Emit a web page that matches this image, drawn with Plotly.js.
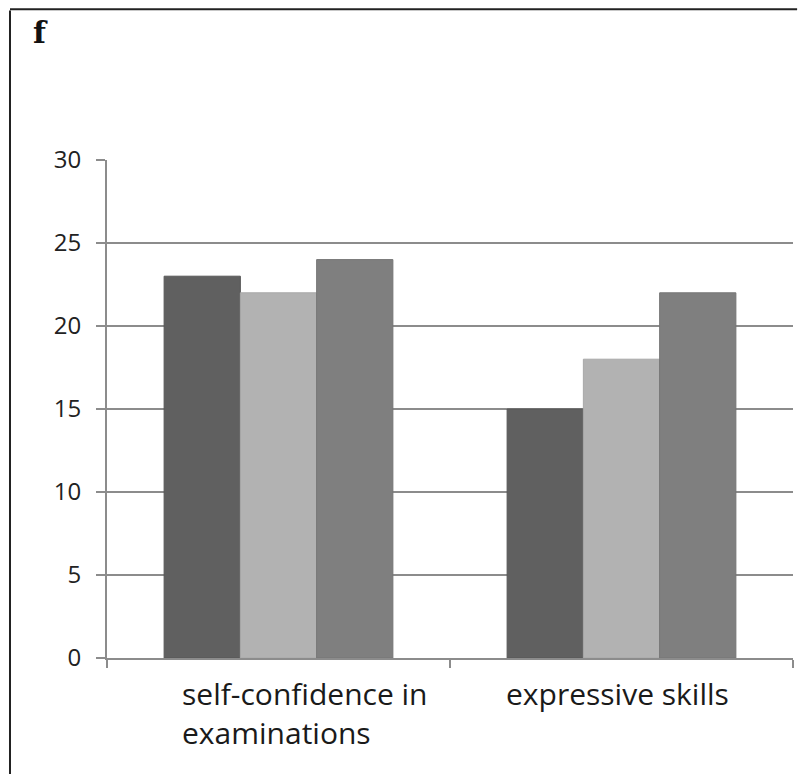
<!DOCTYPE html>
<html>
<head>
<meta charset="utf-8">
<script src="https://cdn.plot.ly/plotly-3.0.1.min.js"></script>
<style>html,body{margin:0;padding:0;background:#fff;}#chart{width:802px;height:774px;}</style>
</head>
<body>
<div id="chart"></div>
<script>
const categories = ["self-confidence in examinations", "expressive skills"];
const categoryLabels = ["self-confidence in<br>examinations", "expressive skills"];
const series1 = [23, 15];
const series2 = [22, 18];
const series3 = [24, 22];
const yTicks = [0, 5, 10, 15, 20, 25, 30];
const panelLabel = "f";

const colors = ["#606060", "#b2b2b2", "#7f7f7f"];
const lineColors = ["#575757", "#a8a8a8", "#767676"];
const seriesList = [series1, series2, series3];

const traces = seriesList.map((vals, i) => ({
  type: "bar",
  x: categories,
  y: vals,
  marker: {color: colors[i], line: {color: lineColors[i], width: 1}},
  hoverinfo: "skip"
}));

const textFont = {family: "Open Sans, sans-serif", size: 30, color: "#1a1a1a"};

const annotations = [
  {x: categories[0], y: 0, xref: "x", yref: "y", text: categoryLabels[0], showarrow: false,
   xanchor: "left", yanchor: "top", align: "left", xshift: -99, yshift: -13, font: textFont},
  {x: categories[1], y: 0, xref: "x", yref: "y", text: categoryLabels[1], showarrow: false,
   xanchor: "center", yanchor: "top", align: "center", xshift: -4, yshift: -13, font: textFont}
];

const layout = {
  width: 802, height: 774,
  margin: {l: 107, r: 9, t: 160, b: 116, pad: 0},
  paper_bgcolor: "#fff", plot_bgcolor: "#fff",
  showlegend: false,
  barmode: "group",
  bargap: 0.333,
  bargroupgap: 0,
  title: {text: "<b>" + panelLabel + "</b>", x: 0.041, xref: "container", xanchor: "left", y: 0.958, yref: "container", yanchor: "middle",
          font: {family: "DejaVu Serif, serif", size: 30, color: "#111"}},
  xaxis: {
    type: "category",
    showticklabels: false,
    tickson: "boundaries",
    ticks: "outside", ticklen: 8, tickwidth: 2, tickcolor: "#8c8c8c",
    showline: true, linecolor: "#8c8c8c", linewidth: 2,
    showgrid: false, zeroline: false,
    range: [-0.5, 1.5], fixedrange: true
  },
  yaxis: {
    range: [0, 30],
    tickvals: yTicks,
    ticktext: yTicks.map(String),
    ticks: "outside", ticklen: 9, tickwidth: 2, tickcolor: "#8c8c8c",
    showline: true, linecolor: "#8c8c8c", linewidth: 2,
    showgrid: true, gridcolor: "#8c8c8c", gridwidth: 2,
    zeroline: false,
    tickfont: {family: "Open Sans, sans-serif", size: 24, color: "#222"},
    ticklabelstandoff: 10,
    fixedrange: true
  },
  annotations: annotations,
  shapes: [
    {type: "line", xref: "paper", yref: "paper", x0: -0.1414, x1: -0.1414, y0: 1.3, y1: -0.3,
     line: {color: "#222", width: 2}},
    {type: "line", xref: "paper", yref: "paper", x0: -0.1414, x1: 1.006, y0: 1.3025, y1: 1.3025,
     line: {color: "#222", width: 2}}
  ]
};

Plotly.newPlot("chart", traces, layout, {displayModeBar: false, staticPlot: true});
</script>
</body>
</html>
